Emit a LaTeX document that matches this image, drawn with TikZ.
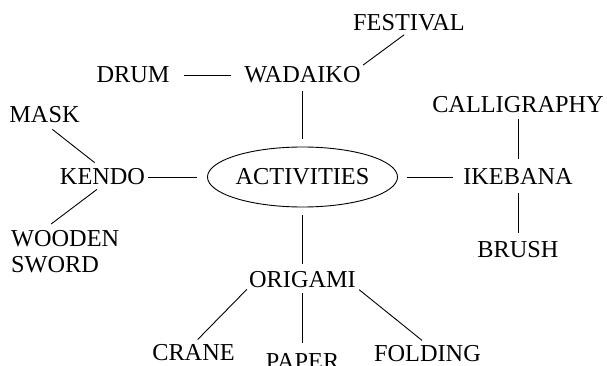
\documentclass[tikz,border=0pt]{standalone}
\usepackage{fontspec}
\setmainfont{Liberation Serif}
\usepackage{tikz}
\usetikzlibrary{shapes.geometric}
\tikzset{word/.style={font=\fontsize{24.3}{26}\selectfont, inner sep=0pt,
                      text height=16pt, text depth=0pt, anchor=base},
         twoline/.style={font=\fontsize{24.3}{26}\selectfont, inner sep=0pt,
                      align=left, anchor=north west},
         link/.style={line width=0.9pt}}

\begin{document}
\begin{tikzpicture}[x=1pt,y=-1pt]
\useasboundingbox (0,0) rectangle (607,366);
\node[word,ellipse,draw,link,anchor=center,minimum width=190pt,minimum height=60pt] (activities) at (302.5,177) {ACTIVITIES};
\node[word] (festival) at (409,31) {FESTIVAL};
\node[word] (drum) at (133,83) {DRUM};
\node[word] (wadaiko) at (302.5,83) {WADAIKO};
\node[word] (mask) at (44.5,123) {MASK};
\node[word] (calligraphy) at (518,113) {CALLIGRAPHY};
\node[word] (kendo) at (102.5,185) {KENDO};
\node[word] (ikebana) at (518,185) {IKEBANA};
\node[twoline] (wooden) at (11,230) {WOODEN\\SWORD};
\node[word] (brush) at (518,257) {BRUSH};
\node[word] (origami) at (302.5,287) {ORIGAMI};
\node[word] (crane) at (193.5,360) {CRANE};
\node[word] (paper) at (302.5,369) {PAPER};
\node[word] (folding) at (427.5,361) {FOLDING};
\draw[link,shorten <=14pt,shorten >=13pt](drum)--(wadaiko);
\draw[link,shorten <=3pt,shorten >=6pt](wadaiko.north east)--(festival.south);
\draw[link,shorten <=8pt,shorten >=8pt](wadaiko.south)--(activities.north);
\draw[link,shorten <=10pt,shorten >=10pt](mask.south)--(kendo.north);
\draw[link,shorten <=3pt,shorten >=10pt](kendo)--(activities);
\draw[link,shorten <=7pt,shorten >=10pt](kendo.south)--([xshift=-22pt]wooden.north);
\draw[link,shorten <=9pt,shorten >=10pt](activities)--(ikebana);
\draw[link,shorten <=6pt,shorten >=10pt](calligraphy.south)--(ikebana.north);
\draw[link,shorten <=8pt,shorten >=8pt](ikebana.south)--(brush.north);
\draw[link,shorten <=8pt,shorten >=7pt](activities.south)--(origami.north);
\draw[link,shorten <=3pt,shorten >=6pt](origami.south west)--(crane.north);
\draw[link,shorten <=6pt,shorten >=10pt](origami.south)--(paper.north);
\draw[link,shorten <=4pt,shorten >=7pt](origami.south east)--(folding.north);
\end{tikzpicture}
\end{document}
